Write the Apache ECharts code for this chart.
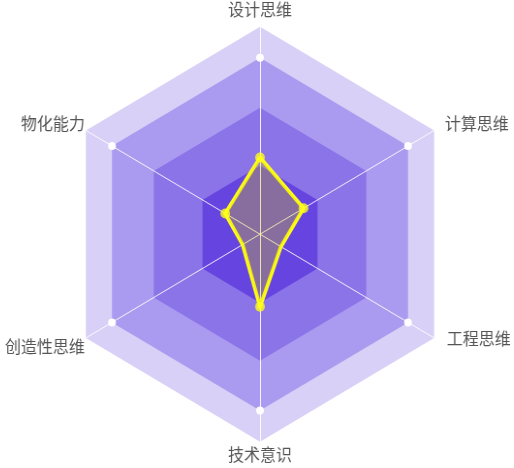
<!DOCTYPE html>
<html>
<head>
<meta charset="utf-8">
<script src="https://cdn.jsdelivr.net/npm/echarts@6/dist/echarts.min.js"></script>
<style>
html,body{margin:0;padding:0;background:#fff;overflow:hidden;width:514px;height:468px;}
#chart{width:540px;height:468px;margin-left:-13px;transform:scaleX(0.969);transform-origin:273px 0;}
</style>
</head>
<body>
<div id="chart"></div>
<script>
// indicators in ECharts radar order (counter-clockwise from top)
var indicators = ['设计思维', '物化能力', '创造性思维', '技术意识', '工程思维', '计算思维'];
var maxValue = 100;
var scores = [37, 20, 10, 35, 12, 25];
// indices of indicators whose score point is marked with a dot
var dotIndices = [0, 1, 3, 5];
// background band levels (outer to inner)
var bandLevels = [100, 85, 61, 33];
var bandColors = ['#d8d0f6', '#ab9bf0', '#8b73e8', '#6544e0'];

var center = [273, 234.2];
var radius = 207.5;

// per-label padding [top, right, bottom, left] to place names like the reference
var namePads = [[0, 0, 9, 0], [0, 1, 13, 0], [18, 1, 0, 0], [5, 0, 0, 0], [2, 0, 0, 13], [0, 0, 13, 11]];
var rich = {};
namePads.forEach(function (p, i) {
  rich['n' + i] = { padding: p, fontSize: 16.5, color: '#555555', fontFamily: 'Noto Sans CJK SC' };
});

var bandSeries = bandLevels.map(function (lvl, k) {
  return {
    type: 'radar',
    radarIndex: 0,
    z: 1,
    silent: true,
    symbol: k === 1 ? 'circle' : 'none',
    symbolSize: 8,
    itemStyle: { color: '#ffffff' },
    lineStyle: { width: 0, opacity: 0 },
    areaStyle: { color: bandColors[k], opacity: 1 },
    data: [{ value: indicators.map(function () { return lvl; }) }]
  };
});

var option = {
  animation: false,
  radar: {
    z: 2,
    center: center,
    radius: radius,
    shape: 'polygon',
    startAngle: 90,
    indicator: indicators.map(function (n) { return { name: n, max: maxValue, min: 0 }; }),
    axisName: {
      color: '#555555', fontSize: 16.5, fontFamily: 'Noto Sans CJK SC',
      formatter: function (name) { return '{n' + indicators.indexOf(name) + '|' + name + '}'; },
      rich: rich
    },
    nameGap: 0,
    axisLine: { lineStyle: { color: 'rgba(255,255,255,0.9)', width: 1 } },
    splitLine: { show: false },
    splitArea: { show: false }
  },
  polar: { center: center, radius: radius },
  angleAxis: { type: 'value', min: 0, max: indicators.length, startAngle: 90, clockwise: false, show: false, axisLine:{show:false}, splitLine:{show:false}, axisTick:{show:false}, axisLabel:{show:false} },
  radiusAxis: { type: 'value', min: 0, max: maxValue, show: false, axisLine:{show:false}, splitLine:{show:false}, axisTick:{show:false}, axisLabel:{show:false} },
  series: bandSeries.concat([
    {
      type: 'radar',
      radarIndex: 0,
      z: 3,
      symbol: 'none',
      lineStyle: { color: '#ffff1a', width: 3.8 },
      areaStyle: { color: 'rgba(220,210,0,0.42)' },
      data: [{ value: scores }]
    },
    {
      type: 'scatter',
      coordinateSystem: 'polar',
      z: 4,
      symbol: 'circle',
      symbolSize: 10,
      itemStyle: { color: '#ffff1a' },
      data: dotIndices.map(function (i) { return [scores[i], i]; })
    }
  ])
};

var chart = echarts.init(document.getElementById('chart'), null, { renderer: 'canvas' });
chart.setOption(option);
</script>
</body>
</html>
